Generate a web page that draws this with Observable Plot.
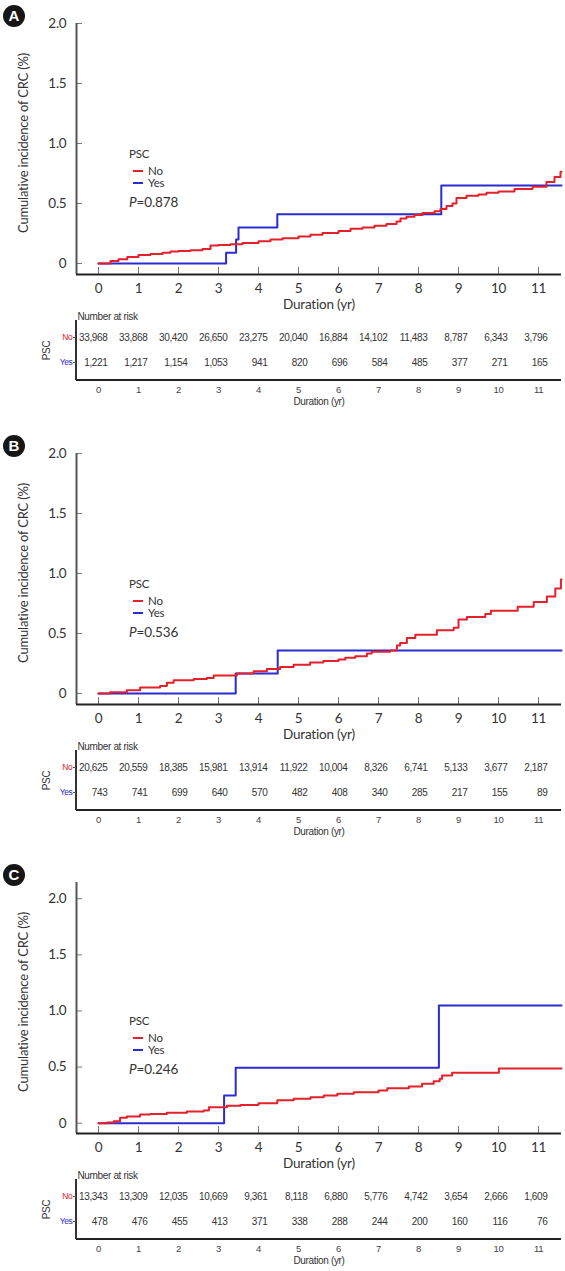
<!DOCTYPE html>
<html>
<head>
<meta charset="utf-8">
<script src="https://cdn.jsdelivr.net/npm/d3@7"></script>
<script src="https://cdn.jsdelivr.net/npm/@observablehq/plot@0.6"></script>
<style>
  body { margin: 0; background: #fff; }
  #root { position: relative; width: 565px; height: 1271px; font-family: Lato, "Open Sans", sans-serif; color: #333; overflow: hidden; }
  .panel { position: absolute; left: 0; width: 565px; height: 420px; }
  .panel svg { position: absolute; left: 0; }
  .badge { position: absolute; left: 3px; top: 5px; width: 22px; height: 22px; border-radius: 50%; background: #161616; color: #fff;
           font: bold 15px "Liberation Sans", Arial, sans-serif; text-align: center; line-height: 22px; }
  .leg { position: absolute; left: 129px; font-size: 11.5px; line-height: 11px; letter-spacing: -0.2px; white-space: nowrap; color: #333; }
  .leg .row { position: absolute; left: 0; white-space: nowrap; }
  .leg .dash { display: inline-block; width: 10px; height: 2px; vertical-align: middle; margin: 0 5px 0 4px; position: relative; top: -1px; }
  .leg .pv { position: absolute; left: 0; font-size: 13.5px; line-height: 13px; letter-spacing: -0.1px; }
</style>
</head>
<body>
<div id="root"></div>
<script>
// ---------- data ----------
const years = [0, 1, 2, 3, 4, 5, 6, 7, 8, 9, 10, 11];
const groups = ["No", "Yes"];
const panelNames = ["A", "B", "C"];
const pValues = ["0.878", "0.536", "0.246"];
const yTicks = [0, 0.5, 1, 1.5, 2];
const xDomain = [-0.55, 11.575];

// Panel A cumulative incidence (%)
const aNoT = [0, 0.3, 0.5, 0.72, 1.0, 1.3, 1.6, 1.8, 2.0, 2.3, 2.6, 2.8, 3.0, 3.3, 3.6, 4.0, 4.3, 4.6, 5.0, 5.3, 5.6, 6.0, 6.3, 6.6, 6.9, 7.2, 7.45, 7.55, 7.7, 7.9, 8.1, 8.4, 8.55, 8.7, 8.85, 8.95, 9.2, 9.5, 9.7, 10.0, 10.4, 10.85, 11.2, 11.4, 11.55, 11.575];
const aNoV = [0, 0.02, 0.035, 0.055, 0.07, 0.08, 0.09, 0.1, 0.105, 0.11, 0.12, 0.15, 0.155, 0.16, 0.17, 0.185, 0.2, 0.21, 0.225, 0.24, 0.255, 0.27, 0.29, 0.3, 0.315, 0.33, 0.35, 0.375, 0.39, 0.405, 0.42, 0.435, 0.455, 0.48, 0.5, 0.545, 0.565, 0.575, 0.59, 0.6, 0.62, 0.64, 0.68, 0.72, 0.765, 0.765];
const aYesT = [0, 3.19, 3.44, 3.5, 4.47, 8.57, 11.575];
const aYesV = [0, 0.09, 0.2, 0.3, 0.41, 0.65, 0.65];

// Panel B
const bNoT = [0, 0.29, 0.71, 1.04, 1.54, 1.71, 1.88, 2.38, 2.71, 2.88, 3.46, 3.88, 4.21, 4.54, 4.88, 5.29, 5.62, 6.0, 6.17, 6.42, 6.71, 6.83, 7.29, 7.46, 7.54, 7.71, 7.92, 8.46, 8.88, 9.0, 9.21, 9.67, 9.81, 10.48, 10.88, 11.21, 11.42, 11.56, 11.575];
const bNoV = [0, 0.01, 0.027, 0.05, 0.062, 0.09, 0.11, 0.12, 0.13, 0.15, 0.167, 0.185, 0.205, 0.22, 0.24, 0.258, 0.27, 0.283, 0.297, 0.31, 0.333, 0.347, 0.358, 0.4, 0.42, 0.463, 0.49, 0.527, 0.547, 0.617, 0.638, 0.663, 0.69, 0.722, 0.763, 0.808, 0.875, 0.95, 0.95];
const bYesT = [0, 3.43, 4.48, 11.575];
const bYesV = [0, 0.167, 0.358, 0.358];

// Panel C
const cNoT = [0, 0.21, 0.38, 0.54, 0.71, 1.04, 1.29, 1.71, 2.21, 2.63, 2.76, 3.21, 3.55, 4.0, 4.47, 4.88, 5.3, 5.63, 5.97, 6.38, 7.0, 7.22, 7.76, 8.09, 8.38, 8.53, 8.59, 8.84, 10.01, 11.575];
const cNoV = [0, 0.005, 0.018, 0.048, 0.06, 0.078, 0.082, 0.092, 0.104, 0.113, 0.143, 0.155, 0.163, 0.178, 0.205, 0.217, 0.232, 0.247, 0.262, 0.276, 0.291, 0.312, 0.327, 0.351, 0.374, 0.396, 0.425, 0.449, 0.488, 0.488];
const cYesT = [0, 3.14, 3.43, 8.51, 11.575];
const cYesV = [0, 0.247, 0.494, 1.049, 1.049];

// Number at risk
const aRiskNo = [33968, 33868, 30420, 26650, 23275, 20040, 16884, 14102, 11483, 8787, 6343, 3796];
const aRiskYes = [1221, 1217, 1154, 1053, 941, 820, 696, 584, 485, 377, 271, 165];
const bRiskNo = [20625, 20559, 18385, 15981, 13914, 11922, 10004, 8326, 6741, 5133, 3677, 2187];
const bRiskYes = [743, 741, 699, 640, 570, 482, 408, 340, 285, 217, 155, 89];
const cRiskNo = [13343, 13309, 12035, 10669, 9361, 8118, 6880, 5776, 4742, 3654, 2666, 1609];
const cRiskYes = [478, 476, 455, 413, 371, 338, 288, 244, 200, 160, 116, 76];

// ---------- layout / style ----------
const RED = "#e3212b";
const BLUE = "#2b2bd3";
const panelTop = [0, 430, 859];
const yDomains = [[-0.0917, 2.0], [-0.0917, 2.0], [-0.092, 2.145]];
const legendTop = [154, 154, 162];
const mainFont = "Lato, 'Open Sans', sans-serif";
const tableFont = "'Liberation Sans', Arial, sans-serif";
// table rows: 0 = No (top), 1 = Yes; domain runs bottom -> top
const tableYBottom = 1.72;
const tableYTop = -0.68;

const panels = [
  {no: [aNoT, aNoV], yes: [aYesT, aYesV], risk: [aRiskNo, aRiskYes]},
  {no: [bNoT, bNoV], yes: [bYesT, bYesV], risk: [bRiskNo, bRiskYes]},
  {no: [cNoT, cNoV], yes: [cYesT, cYesV], risk: [cRiskNo, cRiskYes]}
];

const fmtY = d => d === 0 ? "0" : d.toFixed(1);
const fmtN = d3.format(",");

function series([t, v], g) { return t.map((ti, i) => ({t: ti, v: v[i], g})); }

function mainChart(p, k) {
  const yDom = yDomains[k].slice();
  const xDom = xDomain.slice();
  const rows = [...series(p.yes, "Yes"), ...series(p.no, "No")];
  return Plot.plot({
    width: 565, height: 320,
    marginLeft: 76, marginRight: 4, marginTop: 23, marginBottom: 46,
    x: {domain: xDom},
    y: {domain: yDom},
    color: {domain: groups.slice(), range: [RED, BLUE]},
    style: {fontFamily: mainFont, fontSize: "13.5px", color: "#333", background: "transparent", overflow: "visible", letterSpacing: "-0.2px"},
    marks: [
      Plot.axisY(yTicks, {tickSize: -6, tickPadding: 16, tickFormat: fmtY, stroke: "#777", fill: "#333", fontSize: 13.5, label: null}),
      Plot.axisX(years, {tickSize: -7, tickPadding: 16, stroke: "#777", fill: "#333", fontSize: 13.5, label: null}),
      Plot.ruleX([xDom[0]], {stroke: "#555", strokeWidth: 2}),
      Plot.ruleY([yDom[0]], {stroke: "#222", strokeWidth: 2}),
      Plot.line(rows, {x: "t", y: "v", z: "g", stroke: "g", curve: "step-after", strokeWidth: 2}),
      Plot.text(["Duration (yr)"], {frameAnchor: "bottom", dy: 34, fontSize: 13.5, fill: "#333"}),
      Plot.text(["Cumulative incidence of CRC (%)"], {frameAnchor: "left", textAnchor: "middle", rotate: -90, dx: -53, dy: -6, fontSize: 13, fill: "#333"})
    ]
  });
}

function tableChart(p) {
  const rows = [];
  groups.forEach((g, gi) => p.risk[gi].forEach((n, i) => rows.push({x: years[i], gi, n})));
  const xDom = xDomain.slice();
  return Plot.plot({
    width: 565, height: 120,
    marginLeft: 76, marginRight: 4, marginTop: 20, marginBottom: 40,
    x: {domain: xDom},
    y: {domain: [tableYBottom, tableYTop]},
    style: {fontFamily: tableFont, fontSize: "9.5px", color: "#333", background: "transparent", overflow: "visible", letterSpacing: "-0.35px"},
    marks: [
      // table axis lines (vertical at left, horizontal at bottom)
      Plot.rect([0], {x1: xDom[0], x2: xDom[0], y1: tableYBottom, y2: tableYTop, insetLeft: -1, insetRight: -1, fill: "#333"}),
      Plot.rect([0], {x1: xDom[0], x2: xDom[1], y1: tableYBottom, y2: tableYBottom, insetTop: -1, insetBottom: -1, fill: "#222"}),
      Plot.axisY([0], {tickSize: 3, tickPadding: 1, tickFormat: i => groups[i], stroke: "#555", fill: RED, fontSize: 8.5, label: null}),
      Plot.axisY([1], {tickSize: 3, tickPadding: 1, tickFormat: i => groups[i], stroke: "#555", fill: BLUE, fontSize: 8.5, label: null}),
      Plot.axisX(years, {tickSize: 0, tickPadding: 6, fill: "#444", fontSize: 9.5, label: null}),
      Plot.text(rows, {x: "x", y: "gi", text: d => fmtN(d.n), textAnchor: "end", dx: 9, fontSize: 10, fill: "#333"}),
      Plot.text(["Number at risk"], {frameAnchor: "top-left", textAnchor: "start", dx: 1, dy: -8, fontSize: 10, fill: "#333"}),
      Plot.text(["Duration (yr)"], {frameAnchor: "bottom", dy: 24, fontSize: 10, fill: "#333"}),
      Plot.text(["PSC"], {frameAnchor: "left", textAnchor: "middle", rotate: -90, dx: -30, fontSize: 10, fill: "#333"})
    ]
  });
}

const root = document.getElementById("root");
panels.forEach((p, k) => {
  const div = document.createElement("div");
  div.className = "panel";
  div.style.top = panelTop[k] + "px";
  root.appendChild(div);

  const m = mainChart(p, k);
  m.style.top = "0px";
  div.appendChild(m);

  const t = tableChart(p);
  t.style.top = "300px";
  div.appendChild(t);

  const badge = document.createElement("div");
  badge.className = "badge";
  badge.textContent = panelNames[k];
  div.appendChild(badge);

  const lt = legendTop[k];
  const leg = document.createElement("div");
  leg.className = "leg";
  leg.style.top = (lt - 6) + "px";
  leg.innerHTML =
    `<div class="row" style="top:0px">PSC</div>` +
    `<div class="row" style="top:17px"><span class="dash" style="background:${RED}"></span>No</div>` +
    `<div class="row" style="top:29px"><span class="dash" style="background:${BLUE}"></span>Yes</div>` +
    `<div class="pv" style="top:48px"><i>P</i>=${pValues[k]}</div>`;
  div.appendChild(leg);
});
</script>
</body>
</html>
